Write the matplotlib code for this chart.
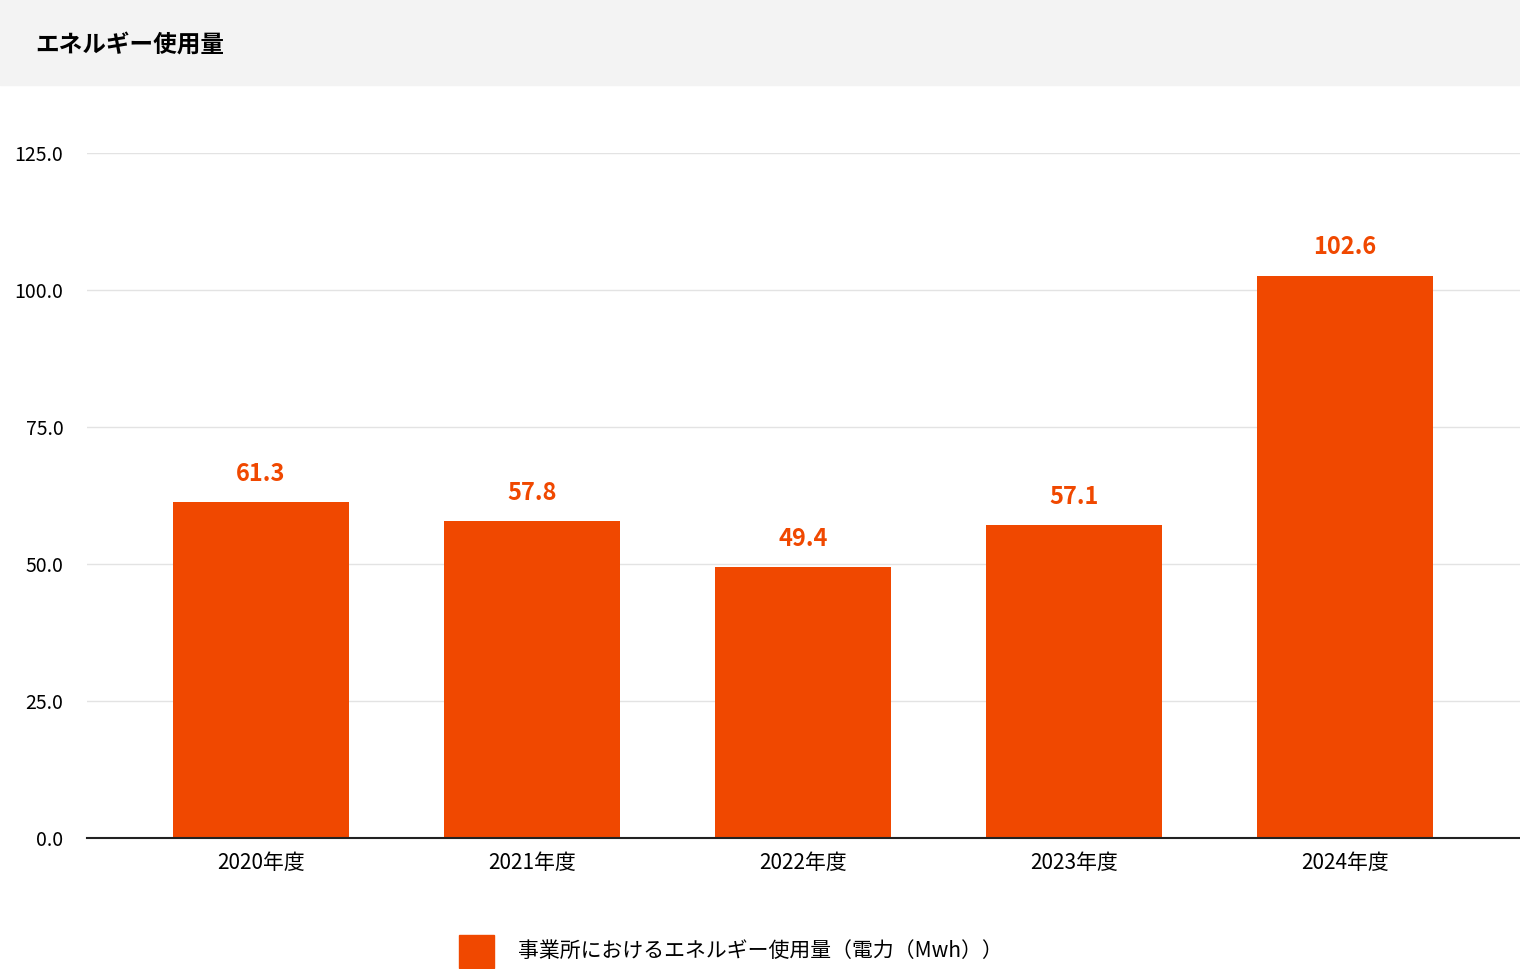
import matplotlib.pyplot as plt
from matplotlib.patches import Rectangle

plt.rcParams['font.family'] = ['Noto Sans CJK JP', 'DejaVu Sans']

years = ['2020年度', '2021年度', '2022年度', '2023年度', '2024年度']
values = [61.3, 57.8, 49.4, 57.1, 102.6]
yticks = [0, 25, 50, 75, 100, 125]
bar_color = '#f04800'
legend_label = '事業所におけるエネルギー使用量（電力（Mwh））'

fig = plt.figure(figsize=(15.2, 9.69), dpi=100)
fig.patches.append(Rectangle((0, 1 - 85/969), 1, 85/969, transform=fig.transFigure,
                             color='#f3f3f3', zorder=0))
fig.text(35/1520, 1 - 45/969, 'エネルギー使用量', fontsize=17, fontweight='bold',
         va='center', ha='left')

ax = fig.add_axes([87/1520, 131/969, 1 - 87/1520, 685/969])
x = range(len(years))
bars = ax.bar(x, values, width=0.65, color=bar_color, zorder=2)
for xi, v in zip(x, values):
    ax.text(xi, v + 3, f'{v:.1f}', ha='center', va='bottom', fontsize=17,
            fontweight='bold', color=bar_color)

ax.set_xlim(-0.642, 4.646)
ax.set_ylim(0, 125)
ax.set_yticks(yticks)
ax.set_yticklabels([f'{t:.1f}' for t in yticks], fontsize=14)
ax.set_xticks(list(x))
ax.set_xticklabels(years, fontsize=15)
ax.tick_params(axis='y', length=0, pad=17)
ax.tick_params(axis='x', length=0, pad=10)
ax.grid(axis='y', color='#e3e3e3', linewidth=1, zorder=0)
ax.set_clip_on(False)
for s in ['top', 'right', 'left']:
    ax.spines[s].set_visible(False)
ax.spines['bottom'].set_color('#222222')
ax.spines['bottom'].set_linewidth(1.5)
ax.spines['bottom'].set_zorder(3)

fig.patches.append(Rectangle((459/1520, 1 - 968/969), 35/1520, 33/969,
                             transform=fig.transFigure, color=bar_color))
fig.text(518/1520, 1 - 951/969, legend_label, fontsize=15, va='center', ha='left')

fig.savefig('out.png', dpi=100)
